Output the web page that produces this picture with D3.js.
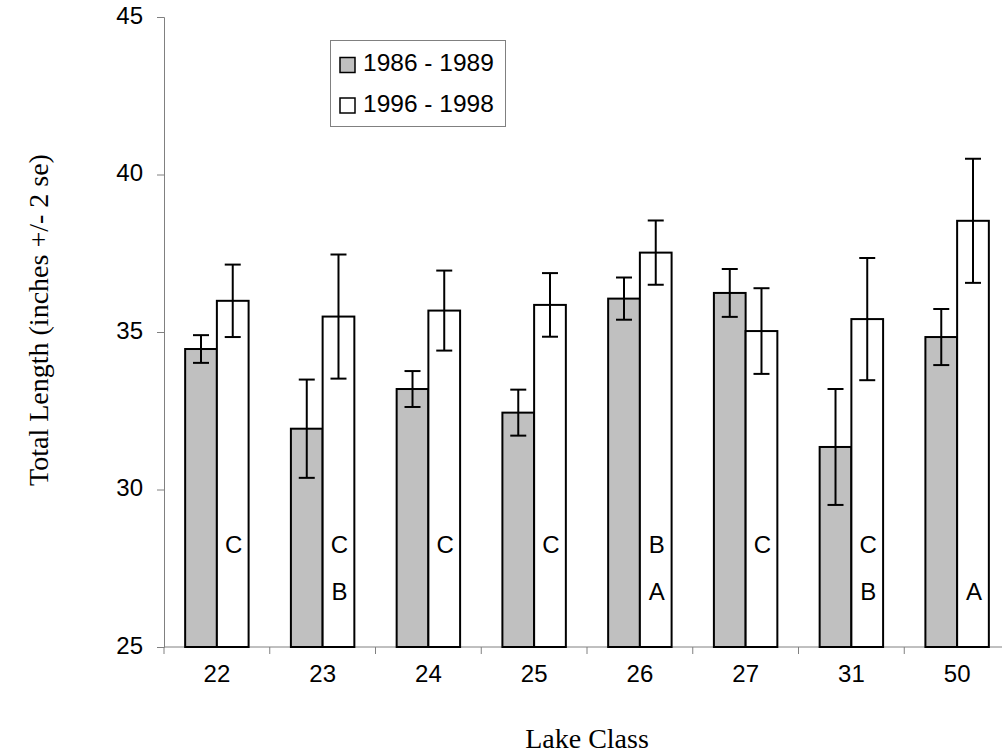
<!DOCTYPE html>
<html>
<head>
<meta charset="utf-8">
<script src="https://cdn.jsdelivr.net/npm/d3@7"></script>
<style>
  html, body { margin: 0; padding: 0; background: #ffffff; }
  svg { display: block; }
</style>
</head>
<body>
<script>
// ---- data ----
const categories = ["22", "23", "24", "25", "26", "27", "31", "50"];
const seriesNames = ["1986 - 1989", "1996 - 1998"];
const means1986 = [34.46, 31.93, 33.19, 32.44, 36.06, 36.24, 31.35, 34.84];
const err1986   = [0.44, 1.56, 0.57, 0.73, 0.67, 0.76, 1.84, 0.89];
const means1996 = [35.99, 35.49, 35.68, 35.86, 37.52, 35.03, 35.41, 38.53];
const err1996   = [1.15, 1.97, 1.27, 1.01, 1.02, 1.36, 1.94, 1.97];
const upperLetters = ["C", "C", "C", "C", "B", "C", "C", ""];
const lowerLetters = ["", "B", "", "", "A", "", "B", "A"];
const yTicks = [25, 30, 35, 40, 45];

// ---- layout ----
const W = 1002, H = 753;
const plot = { left: 164, right: 1010, top: 17, bottom: 647 };
const sans = "'Liberation Sans', Arial, sans-serif";
const serif = "'Liberation Serif', 'Times New Roman', serif";
const colors = ["#c0c0c0", "#ffffff"];

const svg = d3.select("body").append("svg").attr("width", W).attr("height", H);
svg.append("rect").attr("width", W).attr("height", H).attr("fill", "#fff");

const x = d3.scaleBand().domain(categories).range([plot.left, plot.right]).paddingInner(0.4).paddingOuter(0.2);
const xs = d3.scaleBand().domain([0, 1]).range([0, x.bandwidth()]);
const y = d3.scaleLinear().domain([25, 45]).range([plot.bottom, plot.top]);

const data = categories.map((c, i) => ({
  cat: c,
  vals: [
    { s: 0, v: means1986[i], e: err1986[i] },
    { s: 1, v: means1996[i], e: err1996[i] }
  ],
  up: upperLetters[i], low: lowerLetters[i]
}));

// axes
const yAxis = d3.axisLeft(y).tickValues(yTicks).tickSize(7).tickPadding(14);
const gy = svg.append("g").attr("transform", `translate(${plot.left},0)`).call(yAxis);
gy.selectAll("path, line").attr("stroke", "#808080").attr("stroke-width", 1);
gy.selectAll("text").attr("font-family", sans).attr("font-size", 24).attr("fill", "#000").attr("dy", "0.25em");

const xAxis = d3.axisBottom(x).tickSize(0).tickPadding(0);
const gx = svg.append("g").attr("transform", `translate(0,${plot.bottom})`).call(xAxis);
gx.select("path").attr("stroke", "#808080").attr("stroke-width", 1).attr("d", `M${plot.left},0H${plot.right}`);
gx.selectAll(".tick text").attr("font-family", sans).attr("font-size", 24).attr("fill", "#000").attr("y", 0).attr("dy", "1.45em");
// category boundary ticks
const step = x.step();
const bounds = d3.range(categories.length + 1).map(i => plot.left + i * step);
gx.selectAll(".bound").data(bounds).enter().append("line")
  .attr("x1", d => d).attr("x2", d => d).attr("y1", 0).attr("y2", 7)
  .attr("stroke", "#808080").attr("stroke-width", 1);

// bars
const groups = svg.append("g").selectAll("g").data(data).enter().append("g")
  .attr("transform", d => `translate(${x(d.cat)},0)`);

groups.selectAll("rect").data(d => d.vals).enter().append("rect")
  .attr("x", d => xs(d.s))
  .attr("width", xs.bandwidth())
  .attr("y", d => y(d.v))
  .attr("height", d => y(25) - y(d.v))
  .attr("fill", d => colors[d.s])
  .attr("stroke", "#000").attr("stroke-width", 2);

// error bars
const capHalf = 8;
const eb = groups.selectAll(".err").data(d => d.vals).enter().append("g").attr("class", "err");
eb.append("line")
  .attr("x1", d => xs(d.s) + xs.bandwidth() / 2).attr("x2", d => xs(d.s) + xs.bandwidth() / 2)
  .attr("y1", d => y(d.v + d.e)).attr("y2", d => y(d.v - d.e))
  .attr("stroke", "#000").attr("stroke-width", 2);
eb.append("line")
  .attr("x1", d => xs(d.s) + xs.bandwidth() / 2 - capHalf).attr("x2", d => xs(d.s) + xs.bandwidth() / 2 + capHalf)
  .attr("y1", d => y(d.v + d.e)).attr("y2", d => y(d.v + d.e))
  .attr("stroke", "#000").attr("stroke-width", 2);
eb.append("line")
  .attr("x1", d => xs(d.s) + xs.bandwidth() / 2 - capHalf).attr("x2", d => xs(d.s) + xs.bandwidth() / 2 + capHalf)
  .attr("y1", d => y(d.v - d.e)).attr("y2", d => y(d.v - d.e))
  .attr("stroke", "#000").attr("stroke-width", 2);

// significance letters
groups.append("text")
  .attr("x", xs(1) + xs.bandwidth() / 2 + 1).attr("y", y(28))
  .attr("text-anchor", "middle").attr("font-family", sans).attr("font-size", 24)
  .text(d => d.up);
groups.append("text")
  .attr("x", xs(1) + xs.bandwidth() / 2 + 1).attr("y", y(26.5))
  .attr("text-anchor", "middle").attr("font-family", sans).attr("font-size", 24)
  .text(d => d.low);

// axis titles
svg.append("text")
  .attr("transform", `translate(48,${(plot.top + plot.bottom) / 2 - 12}) rotate(-90)`)
  .attr("text-anchor", "middle").attr("font-family", serif).attr("font-size", 28)
  .text("Total Length (inches +/- 2 se)");
svg.append("text")
  .attr("x", (plot.left + plot.right) / 2).attr("y", 748)
  .attr("text-anchor", "middle").attr("font-family", serif).attr("font-size", 28)
  .text("Lake Class");

// legend
const lg = svg.append("g");
lg.append("rect").attr("x", 330.5).attr("y", 40.5).attr("width", 175).attr("height", 86)
  .attr("fill", "#fff").attr("stroke", "#808080").attr("stroke-width", 1);
const items = lg.selectAll(".item").data(seriesNames).enter().append("g")
  .attr("transform", (d, i) => `translate(0,${i * 40.5})`);
items.append("rect").attr("x", 340).attr("y", 57.5).attr("width", 15).attr("height", 15)
  .attr("fill", (d, i) => colors[i]).attr("stroke", "#000").attr("stroke-width", 1.5);
items.append("text").attr("x", 363).attr("y", 71)
  .attr("font-family", sans).attr("font-size", 24.5).text(d => d);
</script>
</body>
</html>
